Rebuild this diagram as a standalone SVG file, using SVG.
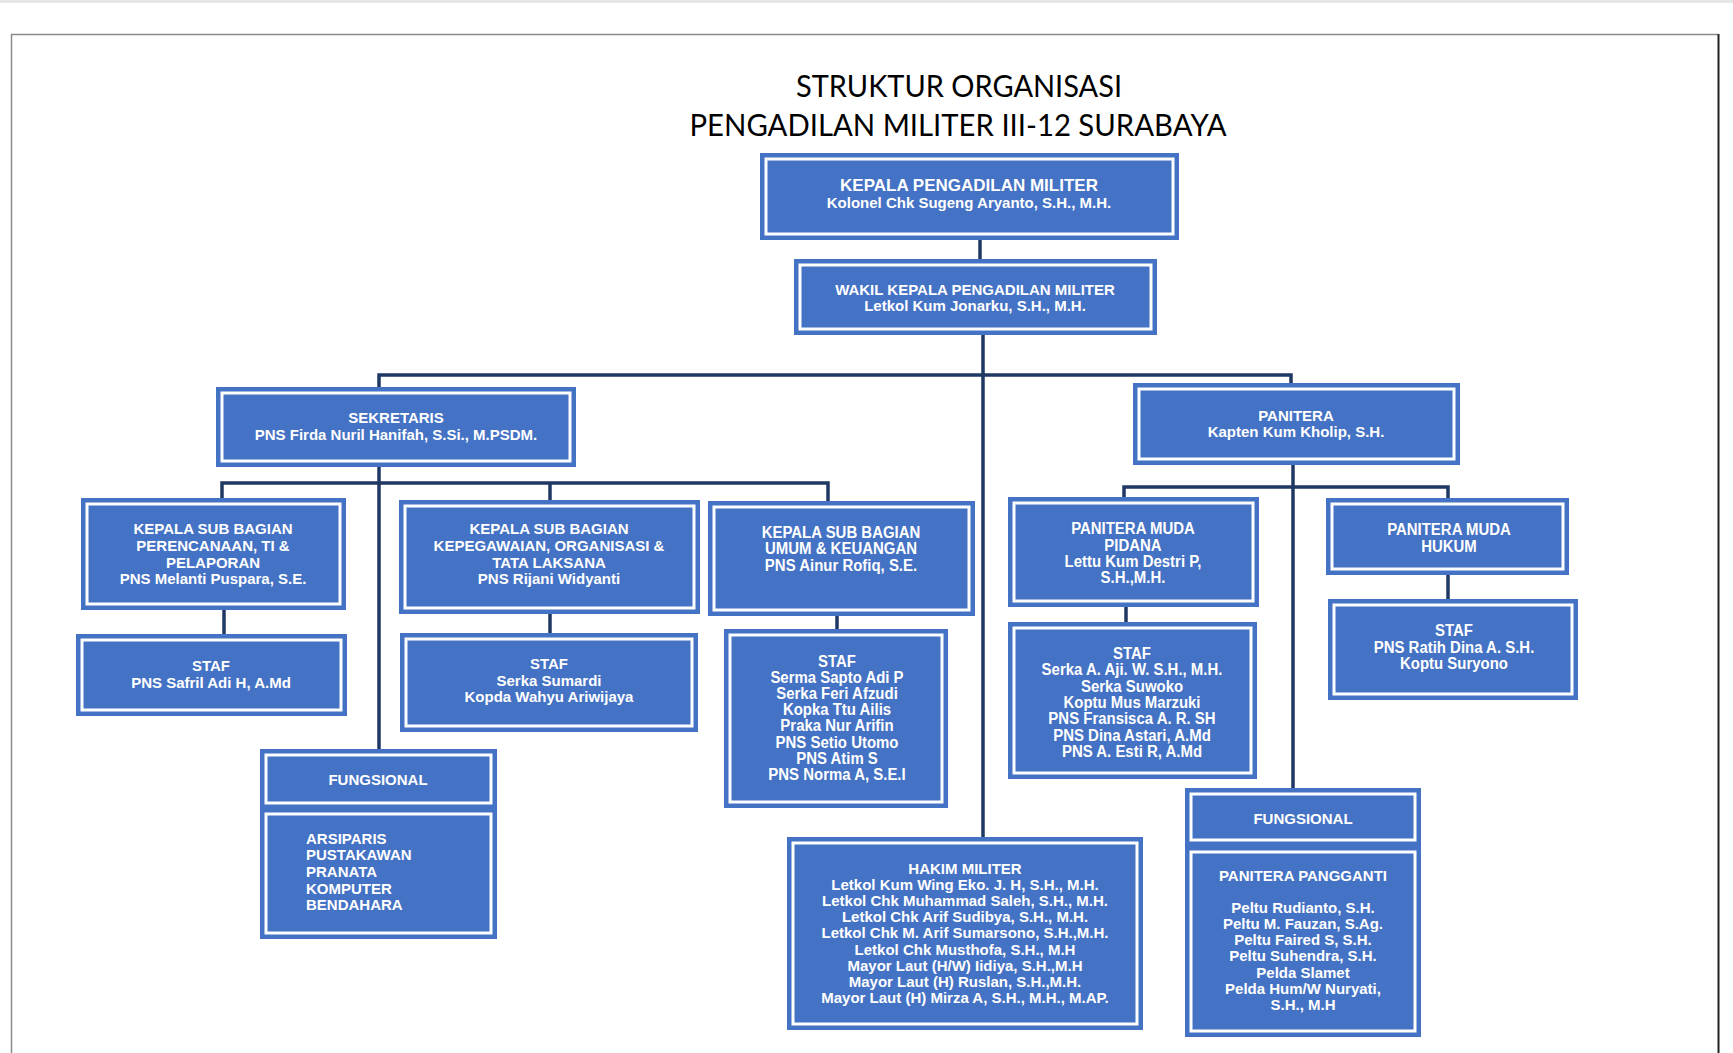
<svg xmlns="http://www.w3.org/2000/svg" width="1733" height="1053" viewBox="0 0 1733 1053">
<style>
.box{fill:#4472C4}
.fr{fill:none;stroke:#FFFFFF;stroke-width:3}
.t{font-family:"Liberation Sans",Arial,sans-serif;font-weight:bold;font-size:15px;fill:#FFFFFF;text-anchor:middle}
.tl{font-family:"Liberation Sans",Arial,sans-serif;font-weight:bold;font-size:15px;fill:#FFFFFF;text-anchor:start}
.n{font-family:"Liberation Sans",Arial,sans-serif;font-weight:bold;font-size:17px;fill:#FFFFFF;text-anchor:middle}
.big{font-size:17px}
.title{font-family:Lato,"Open Sans",sans-serif;font-size:31px;fill:#000000;text-anchor:middle}
.c{fill:none;stroke:#1F3864;stroke-width:3.5}
</style>
<rect x="0" y="0" width="1733" height="1053" fill="#FFFFFF"/>
<rect x="0" y="0" width="1733" height="3" fill="#E6E6E6"/>
<path d="M11.5,1053 V34.5 H1718" fill="none" stroke="#8A8A8A" stroke-width="1.5"/>
<path d="M1718.5,34 V1053" fill="none" stroke="#222222" stroke-width="2"/>

<g id="title">
<text class="title" x="959" y="97" textLength="326" lengthAdjust="spacingAndGlyphs">STRUKTUR ORGANISASI</text>
<text class="title" x="958" y="136" textLength="537" lengthAdjust="spacingAndGlyphs">PENGADILAN MILITER III-12 SURABAYA</text>
</g>

<g id="connectors">
<path class="c" d="M980,240 V259"/>
<path class="c" d="M983,335 V837"/>
<path class="c" d="M379,387 V375 H1291 V383"/>
<path class="c" d="M379,467 V749"/>
<path class="c" d="M222,498 V483 H828 V501"/>
<path class="c" d="M550,483 V500"/>
<path class="c" d="M224,610 V634"/>
<path class="c" d="M550,614 V633"/>
<path class="c" d="M837,616 V629"/>
<path class="c" d="M1293,465 V788"/>
<path class="c" d="M1124,497 V487 H1448 V498"/>
<path class="c" d="M1126,607 V622"/>
<path class="c" d="M1448,575 V599"/>
</g>

<g id="kepala">
<rect class="box" x="760" y="153" width="419" height="87"/>
<rect class="fr" x="766" y="159" width="407" height="75"/>
<text class="t big" x="969" y="191">KEPALA PENGADILAN MILITER</text>
<text class="t" x="969" y="208">Kolonel Chk Sugeng Aryanto, S.H., M.H.</text>
</g>

<g id="wakil">
<rect class="box" x="794" y="259" width="363" height="76"/>
<rect class="fr" x="800" y="265" width="351" height="64"/>
<text class="t" x="975" y="295">WAKIL KEPALA PENGADILAN MILITER</text>
<text class="t" x="975" y="311">Letkol Kum Jonarku, S.H., M.H.</text>
</g>

<g id="sekretaris">
<rect class="box" x="216" y="387" width="360" height="80"/>
<rect class="fr" x="222" y="393" width="348" height="68"/>
<text class="t" x="396" y="423">SEKRETARIS</text>
<text class="t" x="396" y="440">PNS Firda Nuril Hanifah, S.Si., M.PSDM.</text>
</g>

<g id="panitera">
<rect class="box" x="1133" y="383" width="327" height="82"/>
<rect class="fr" x="1139" y="389" width="315" height="70"/>
<text class="t" x="1296" y="421">PANITERA</text>
<text class="t" x="1296" y="437">Kapten Kum Kholip, S.H.</text>
</g>

<g id="ksb-perencanaan">
<rect class="box" x="81" y="498" width="265" height="112"/>
<rect class="fr" x="87" y="504" width="253" height="100"/>
<text class="t" x="213" y="534">KEPALA SUB BAGIAN</text>
<text class="t" x="213" y="551">PERENCANAAN, TI &amp;</text>
<text class="t" x="213" y="568">PELAPORAN</text>
<text class="t" x="213" y="584">PNS Melanti Puspara, S.E.</text>
</g>

<g id="ksb-kepegawaian">
<rect class="box" x="399" y="500" width="301" height="114"/>
<rect class="fr" x="405" y="506" width="289" height="102"/>
<text class="t" x="549" y="534">KEPALA SUB BAGIAN</text>
<text class="t" x="549" y="551">KEPEGAWAIAN, ORGANISASI &amp;</text>
<text class="t" x="549" y="568">TATA LAKSANA</text>
<text class="t" x="549" y="584">PNS Rijani Widyanti</text>
</g>

<g id="ksb-umum">
<rect class="box" x="708" y="501" width="267" height="115"/>
<rect class="fr" x="714" y="507" width="255" height="103"/>
<g transform="translate(841 0) scale(0.88 1)">
<text class="n" x="0" y="538">KEPALA SUB BAGIAN</text>
<text class="n" x="0" y="554">UMUM &amp; KEUANGAN</text>
<text class="n" x="0" y="571">PNS Ainur Rofiq, S.E.</text>
</g>
</g>

<g id="staf-perencanaan">
<rect class="box" x="76" y="634" width="271" height="82"/>
<rect class="fr" x="82" y="640" width="259" height="70"/>
<text class="t" x="211" y="671">STAF</text>
<text class="t" x="211" y="688">PNS Safril Adi H, A.Md</text>
</g>

<g id="staf-kepegawaian">
<rect class="box" x="400" y="633" width="298" height="99"/>
<rect class="fr" x="406" y="639" width="286" height="87"/>
<text class="t" x="549" y="669">STAF</text>
<text class="t" x="549" y="686">Serka Sumardi</text>
<text class="t" x="549" y="702">Kopda Wahyu Ariwijaya</text>
</g>

<g id="staf-umum">
<rect class="box" x="724" y="629" width="224" height="179"/>
<rect class="fr" x="730" y="635" width="212" height="167"/>
<g transform="translate(837 0) scale(0.88 1)">
<text class="n" x="0" y="667">STAF</text>
<text class="n" x="0" y="683">Serma Sapto Adi P</text>
<text class="n" x="0" y="699">Serka Feri Afzudi</text>
<text class="n" x="0" y="715">Kopka Ttu Ailis</text>
<text class="n" x="0" y="731">Praka Nur Arifin</text>
<text class="n" x="0" y="748">PNS Setio Utomo</text>
<text class="n" x="0" y="764">PNS Atim S</text>
<text class="n" x="0" y="780">PNS Norma A, S.E.I</text>
</g>
</g>

<g id="fungsional-sekretaris">
<rect class="box" x="260" y="749" width="237" height="59"/>
<rect class="fr" x="266" y="755" width="225" height="48"/>
<text class="t" x="378" y="785">FUNGSIONAL</text>
<rect class="box" x="260" y="808" width="237" height="131"/>
<rect class="fr" x="266" y="814" width="225" height="119"/>
<text class="tl" x="306" y="844">ARSIPARIS</text>
<text class="tl" x="306" y="860">PUSTAKAWAN</text>
<text class="tl" x="306" y="877">PRANATA</text>
<text class="tl" x="306" y="894">KOMPUTER</text>
<text class="tl" x="306" y="910">BENDAHARA</text>
</g>

<g id="hakim">
<rect class="box" x="787" y="837" width="356" height="193"/>
<rect class="fr" x="793" y="843" width="344" height="181"/>
<text class="t" x="965" y="874">HAKIM MILITER</text>
<text class="t" x="965" y="890">Letkol Kum Wing Eko. J. H, S.H., M.H.</text>
<text class="t" x="965" y="906">Letkol Chk Muhammad Saleh, S.H., M.H.</text>
<text class="t" x="965" y="922">Letkol Chk Arif Sudibya, S.H., M.H.</text>
<text class="t" x="965" y="938">Letkol Chk M. Arif Sumarsono, S.H.,M.H.</text>
<text class="t" x="965" y="955">Letkol Chk Musthofa, S.H., M.H</text>
<text class="t" x="965" y="971">Mayor Laut (H/W) Iidiya, S.H.,M.H</text>
<text class="t" x="965" y="987">Mayor Laut (H) Ruslan, S.H.,M.H.</text>
<text class="t" x="965" y="1003">Mayor Laut (H) Mirza A, S.H., M.H., M.AP.</text>
</g>

<g id="pm-pidana">
<rect class="box" x="1008" y="497" width="251" height="110"/>
<rect class="fr" x="1014" y="503" width="239" height="98"/>
<g transform="translate(1133 0) scale(0.88 1)">
<text class="n" x="0" y="534">PANITERA MUDA</text>
<text class="n" x="0" y="551">PIDANA</text>
<text class="n" x="0" y="567">Lettu Kum Destri P,</text>
<text class="n" x="0" y="583">S.H.,M.H.</text>
</g>
</g>

<g id="pm-hukum">
<rect class="box" x="1326" y="498" width="243" height="77"/>
<rect class="fr" x="1332" y="504" width="231" height="65"/>
<g transform="translate(1449 0) scale(0.88 1)">
<text class="n" x="0" y="535">PANITERA MUDA</text>
<text class="n" x="0" y="552">HUKUM</text>
</g>
</g>

<g id="staf-pidana">
<rect class="box" x="1008" y="622" width="249" height="157"/>
<rect class="fr" x="1014" y="628" width="237" height="145"/>
<g transform="translate(1132 0) scale(0.88 1)">
<text class="n" x="0" y="659">STAF</text>
<text class="n" x="0" y="675">Serka A. Aji. W. S.H., M.H.</text>
<text class="n" x="0" y="692">Serka Suwoko</text>
<text class="n" x="0" y="708">Koptu Mus Marzuki</text>
<text class="n" x="0" y="724">PNS Fransisca A. R. SH</text>
<text class="n" x="0" y="741">PNS Dina Astari, A.Md</text>
<text class="n" x="0" y="757">PNS A. Esti R, A.Md</text>
</g>
</g>

<g id="staf-hukum">
<rect class="box" x="1328" y="599" width="250" height="101"/>
<rect class="fr" x="1334" y="605" width="238" height="89"/>
<g transform="translate(1454 0) scale(0.88 1)">
<text class="n" x="0" y="636">STAF</text>
<text class="n" x="0" y="653">PNS Ratih Dina A. S.H.</text>
<text class="n" x="0" y="669">Koptu Suryono</text>
</g>
</g>

<g id="fungsional-panitera">
<rect class="box" x="1185" y="788" width="236" height="58"/>
<rect class="fr" x="1191" y="794" width="224" height="46"/>
<text class="t" x="1303" y="824">FUNGSIONAL</text>
<rect class="box" x="1185" y="846" width="236" height="191"/>
<rect class="fr" x="1191" y="852" width="224" height="179"/>
<text class="t" x="1303" y="881">PANITERA PANGGANTI</text>
<text class="t" x="1303" y="913">Peltu Rudianto, S.H.</text>
<text class="t" x="1303" y="929">Peltu M. Fauzan, S.Ag.</text>
<text class="t" x="1303" y="945">Peltu Faired S, S.H.</text>
<text class="t" x="1303" y="961">Peltu Suhendra, S.H.</text>
<text class="t" x="1303" y="978">Pelda Slamet</text>
<text class="t" x="1303" y="994">Pelda Hum/W Nuryati,</text>
<text class="t" x="1303" y="1010">S.H., M.H</text>
</g>
</svg>
